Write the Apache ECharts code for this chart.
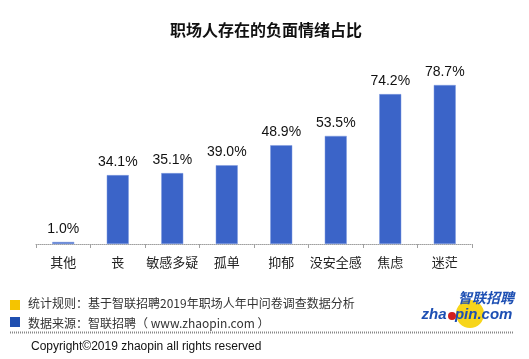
<!DOCTYPE html>
<html><head><meta charset="utf-8">
<script src="https://cdn.jsdelivr.net/npm/echarts@6/dist/echarts.min.js"></script>
<style>html,body{margin:0;padding:0;background:#fff}#c{width:529px;height:359px}</style>
</head><body><div id="c"></div>
<script>
const titleText = '职场人存在的负面情绪占比';
const categories = ['其他','丧','敏感多疑','孤单','抑郁','没安全感','焦虑','迷茫'];
const values = [1.0, 34.1, 35.1, 39.0, 48.9, 53.5, 74.2, 78.7];
const note1 = '统计规则：基于智联招聘2019年职场人年中问卷调查数据分析';
const note2 = '数据来源：智联招聘（ www.zhaopin.com ）';
const copyright = 'Copyright©2019 zhaopin all rights reserved';

const chart = echarts.init(document.getElementById('c'), null, {renderer:'canvas'});
const cjk = '"Microsoft YaHei","Noto Sans CJK SC",sans-serif';
chart.setOption({
  animation:false,
  backgroundColor:'#fff',
  title:{text:titleText,left:261,textAlign:'center',top:17,
    textStyle:{fontSize:16,fontWeight:'bold',color:'#111',fontFamily:cjk}},
  grid:{left:36,right:57,top:42,bottom:115},
  xAxis:{type:'category',data:categories,
    axisLine:{lineStyle:{color:'#a0a0a0',type:'dotted',width:1}},
    axisTick:{show:true,length:4,interval:0,lineStyle:{color:'#a0a0a0'}},
    axisLabel:{fontSize:13,color:'#222',margin:12,interval:0,fontFamily:cjk}},
  yAxis:{type:'value',min:0,max:100,show:false,splitLine:{show:false}},
  series:[{type:'bar',data:values,barWidth:22,
    itemStyle:{color:'#3b64c8',borderColor:'#7f9be0',borderWidth:0.5},
    label:{show:true,position:'top',distance:6,fontSize:14,color:'#111',
      fontFamily:'"Liberation Sans","Noto Sans",sans-serif',
      formatter:p=>p.value.toFixed(1)+'%'}}],
  graphic:[
    {type:'rect',shape:{x:10,y:300,width:10,height:10},style:{fill:'#f5c400'}},
    {type:'text',style:{x:28,y:303,text:note1,fontSize:12,fill:'#333',fontFamily:cjk,textVerticalAlign:'middle'}},
    {type:'rect',shape:{x:10,y:317,width:10,height:10},style:{fill:'#1f4fb0'}},
    {type:'text',style:{x:28,y:323,text:note2,fontSize:12,fill:'#333',fontFamily:cjk,textVerticalAlign:'middle'}},
    {type:'line',shape:{x1:10,y1:332.5,x2:513,y2:332.5},style:{stroke:'#888',lineWidth:2,lineDash:[1,1]}},
    {type:'text',style:{x:31,y:347,text:copyright,fontSize:12,fill:'#111',fontFamily:'"Liberation Sans",sans-serif',textVerticalAlign:'middle'}},
    {type:'circle',shape:{cx:470,cy:314,r:14},style:{fill:'#f7d51a'}},
    {type:'text',style:{x:486,y:298,text:'智联招聘',fontSize:14,fontWeight:'bold',fontStyle:'italic',fill:'#1d4fb3',fontFamily:cjk,textAlign:'center',textVerticalAlign:'middle'}},
    {type:'text',style:{x:467,y:315,text:'zha  pin.com',fontSize:15,fontWeight:'bold',fontStyle:'italic',fill:'#1d4fb3',fontFamily:'"Liberation Sans",sans-serif',textAlign:'center',textVerticalAlign:'middle'}},
    {type:'circle',shape:{cx:452,cy:316,r:4},style:{fill:'#d21f1f'}}
  ]
});
</script></body></html>
